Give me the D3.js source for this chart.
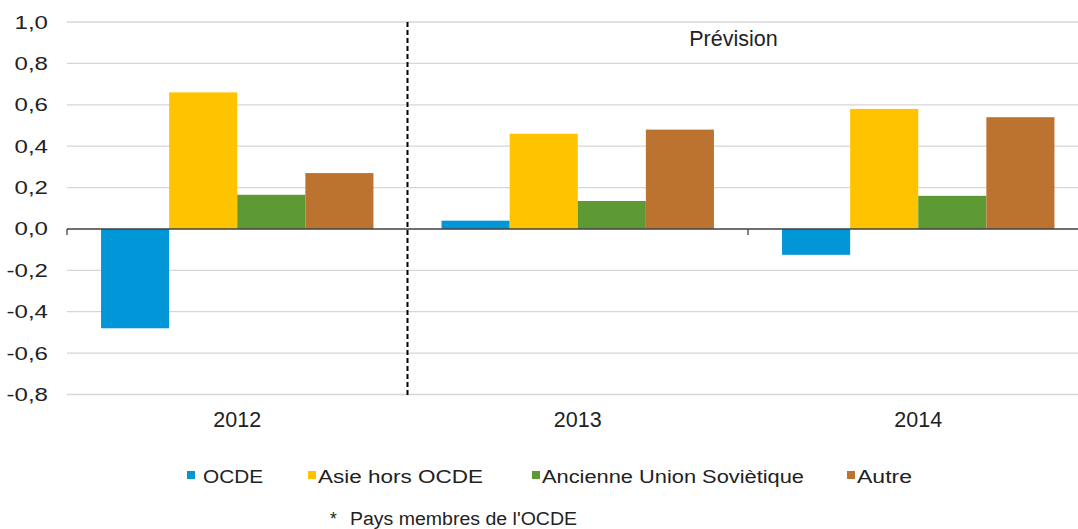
<!DOCTYPE html>
<html><head><meta charset="utf-8">
<script src="https://cdn.jsdelivr.net/npm/d3@7"></script>
<style>body{margin:0;background:#fff}svg{display:block;font-family:"Liberation Sans",Arial,sans-serif}</style>
</head><body>
<svg id="c" width="1078" height="529"></svg>
<script>
const years = ["2012", "2013", "2014"];
const seriesNames = ["OCDE", "Asie hors OCDE", "Ancienne Union Soviètique", "Autre"];
const ocde = [-0.48, 0.04, -0.125];
const asie = [0.66, 0.46, 0.58];
const exUrss = [0.165, 0.135, 0.16];
const autre = [0.27, 0.48, 0.54];
const colors = ["#0096d7", "#ffc300", "#5e9a33", "#bc7330"];
const yTicks = [1.0, 0.8, 0.6, 0.4, 0.2, 0.0, -0.2, -0.4, -0.6, -0.8];
const forecastLabel = "Prévision";
const footnoteStar = "*";
const footnote = "Pays membres de l'OCDE";

const seriesValues = [ocde, asie, exUrss, autre];
const svg = d3.select("#c");
const left = 67, bandW = 340.5;
const x = d3.scaleBand().domain(years).range([left, left + bandW * 3]).padding(0);
const xs = d3.scaleBand().domain(seriesNames).range([0, x.bandwidth()]).paddingOuter(0.5).paddingInner(0);
const y = d3.scaleLinear().domain([-0.8, 1.0]).range([394.5, 22]);
const fmt = v => d3.format(".1f")(v).replace(".", ",").replace("−", "-");

// gridlines
svg.append("g").selectAll("line").data(yTicks.filter(d => d !== 0)).join("line")
  .attr("x1", left).attr("x2", 1078).attr("y1", d => y(d)).attr("y2", d => y(d))
  .attr("stroke", "#d6d6d6").attr("stroke-width", 1.3);

// y labels
const yl = svg.append("g").selectAll("text").data(yTicks).join("text")
  .attr("x", 48).attr("y", d => y(d) + 6.5).attr("text-anchor", "end")
  .attr("font-size", 18.5).attr("fill", "#222").text(d => fmt(d));
yl.each(function(){ const l = this.getComputedTextLength(); d3.select(this).attr("textLength", l * 1.3).attr("lengthAdjust", "spacingAndGlyphs"); });

// bars
const g = svg.append("g");
years.forEach((yr, i) => {
  seriesNames.forEach((s, j) => {
    const v = seriesValues[j][i];
    g.append("rect")
      .attr("x", x(yr) + xs(s)).attr("width", xs.bandwidth())
      .attr("y", y(Math.max(0, v))).attr("height", Math.abs(y(v) - y(0)))
      .attr("fill", colors[j]);
  });
});

// zero axis
svg.append("line").attr("x1", left).attr("x2", 1078).attr("y1", y(0)).attr("y2", y(0))
  .attr("stroke", "#404040").attr("stroke-width", 1.5);
svg.append("g").selectAll("line").data([0, 2]).join("line")
  .attr("x1", d => x(years[d])).attr("x2", d => x(years[d]))
  .attr("y1", y(0)).attr("y2", y(0) + 6).attr("stroke", "#404040").attr("stroke-width", 1.3);

// x labels
svg.append("g").selectAll("text").data(years).join("text")
  .attr("x", d => x(d) + x.bandwidth() / 2).attr("y", 427).attr("text-anchor", "middle")
  .attr("font-size", 21.5).attr("fill", "#222").text(d => d);

// forecast divider
svg.append("line").attr("x1", x(years[1])).attr("x2", x(years[1])).attr("y1", y(1.0)).attr("y2", 398)
  .attr("stroke", "#000").attr("stroke-width", 2).attr("stroke-dasharray", "5,3");
svg.append("text").attr("x", 733.5).attr("y", 46).attr("text-anchor", "middle")
  .attr("font-size", 21.5).attr("fill", "#222").text(forecastLabel);

// legend
const legX = [187, 308, 532, 847];
const legW = [60, 165, 262, 55];
seriesNames.forEach((s, j) => {
  svg.append("rect").attr("x", legX[j]).attr("y", 471).attr("width", 8).attr("height", 8).attr("fill", colors[j]);
  svg.append("text").attr("x", legX[j] + (j === 0 ? 16 : 10)).attr("y", 482.5).attr("font-size", 17.5)
    .attr("fill", "#222").attr("textLength", legW[j]).attr("lengthAdjust", "spacingAndGlyphs").text(s);
});

// footnote
svg.append("text").attr("x", 330).attr("y", 525).attr("font-size", 17.5).attr("fill", "#222").text(footnoteStar);
svg.append("text").attr("x", 350).attr("y", 525).attr("font-size", 18).attr("fill", "#222")
  .attr("textLength", 227).attr("lengthAdjust", "spacingAndGlyphs").text(footnote);
</script>
</body></html>
